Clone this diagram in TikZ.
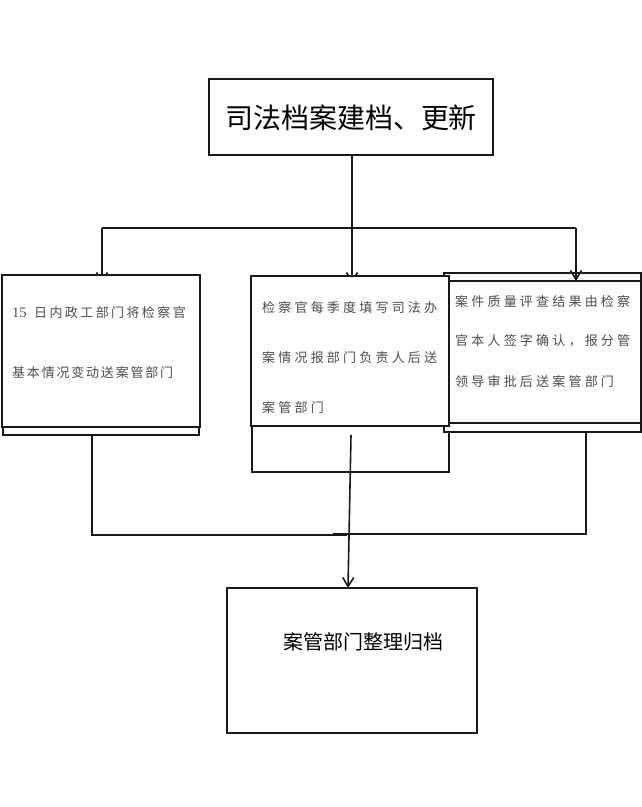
\documentclass[tikz,border=0pt]{standalone}
\usepackage{fontspec}
\setmainfont{Liberation Serif}
\newfontfamily\cjk{Noto Sans CJK SC}
\usetikzlibrary{arrows.meta}
\makeatletter
\newcommand\spaced[2]{\def\sp@gap{\hspace*{#1}}\sp@go#2\relax}
\def\sp@go#1{\ifx\relax#1\else#1\sp@gap\expandafter\sp@go\fi}
\makeatother
\begin{document}
\begin{tikzpicture}[x=1pt,y=-1pt,
  box/.style={draw=black!90, fill=white, line width=1.2pt, inner sep=0pt, outer sep=0pt, anchor=north west},
  bigbox/.style={box, line width=1.8pt},
  conn/.style={draw=black!90, line width=1.6pt},
  arr/.style={conn, -{Straight Barb[length=9pt,width=11pt]}},
  small/.style={inner sep=0pt, anchor=base west, text=black!70, font=\cjk\fontsize{13}{13}\selectfont},
]
\useasboundingbox (0,0) rectangle (642,807);
% top box
\node[bigbox, minimum width=284pt, minimum height=76pt] (top) at (209,79) {};
\node[inner sep=0pt, anchor=base, font=\cjk\fontsize{28}{28}\selectfont] (toptxt) at (351,128) {司法档案建档、更新};
% distribution line
\coordinate (jn) at (352,228);
\coordinate (hl) at (102,228);
\coordinate (hr) at (576,228);
\coordinate (al) at (102,283);
\coordinate (am) at (352,283);
\draw[conn] (top.south -| jn) -- (jn);
\draw[conn] (hl) -- (hr);
\draw[arr] (hl) -- (al);
\draw[arr] (jn) -- (am);
% left box
\node[box, minimum width=196pt, minimum height=155pt] (lb) at (3,280) {};
\node[box, minimum width=198pt, minimum height=152pt] (lf) at (2,275) {};
% middle box
\node[box, minimum width=197pt, minimum height=192pt] (mb) at (252,280) {};
% right box
\node[box, minimum width=197pt, minimum height=159pt] (rb) at (444,273) {};
\node[box, minimum width=192pt, minimum height=142pt] (rf) at (449,281) {};
\node[box, minimum width=198pt, minimum height=150pt] (mf) at (251,276) {};
% right arrow
\draw[arr] (hr) -- (hr |- rf.north);
% texts
\node[small] (l1) at (12,317) {{\rmfamily\fontsize{14.5}{14.5}\selectfont 15}\hspace*{7.5pt}\spaced{2.4pt}{日内政工部门将检察官}};
\node[small] (l2) at (12,377) {\spaced{1.8pt}{基本情况变动送案管部门}};
\node[small] (m1) at (262,312) {\spaced{3.2pt}{检察官每季度填写司法办}};
\node[small] (m2) at (262,362) {\spaced{3.2pt}{案情况报部门负责人后送}};
\node[small] (m3) at (262,412) {\spaced{3.2pt}{案管部门}};
\node[small] (r1) at (455,306) {\spaced{3.2pt}{案件质量评查结果由检察}};
\node[small] (r2) at (455,345) {\spaced{3.2pt}{官本人签字确认，报分管}};
\node[small] (r3) at (455,386) {\spaced{3.2pt}{领导审批后送案管部门}};
% bottom box
\node[bigbox, minimum width=250pt, minimum height=145pt] (bot) at (227,588) {};
\node[inner sep=0pt, anchor=base, font=\cjk\fontsize{20}{20}\selectfont] (bottxt) at (363.5,649) {案管部门整理归档};
% collecting lines
\coordinate (cl) at (92,535);
\coordinate (cr) at (586,534);
\coordinate (as) at (351,435);
\draw[conn] (92,434) -- (cl) -- (347,535);
\draw[conn] (586,432) -- (cr) -- (333,534);
\draw[arr] (as) -- (348,588);
\end{tikzpicture}
\end{document}
